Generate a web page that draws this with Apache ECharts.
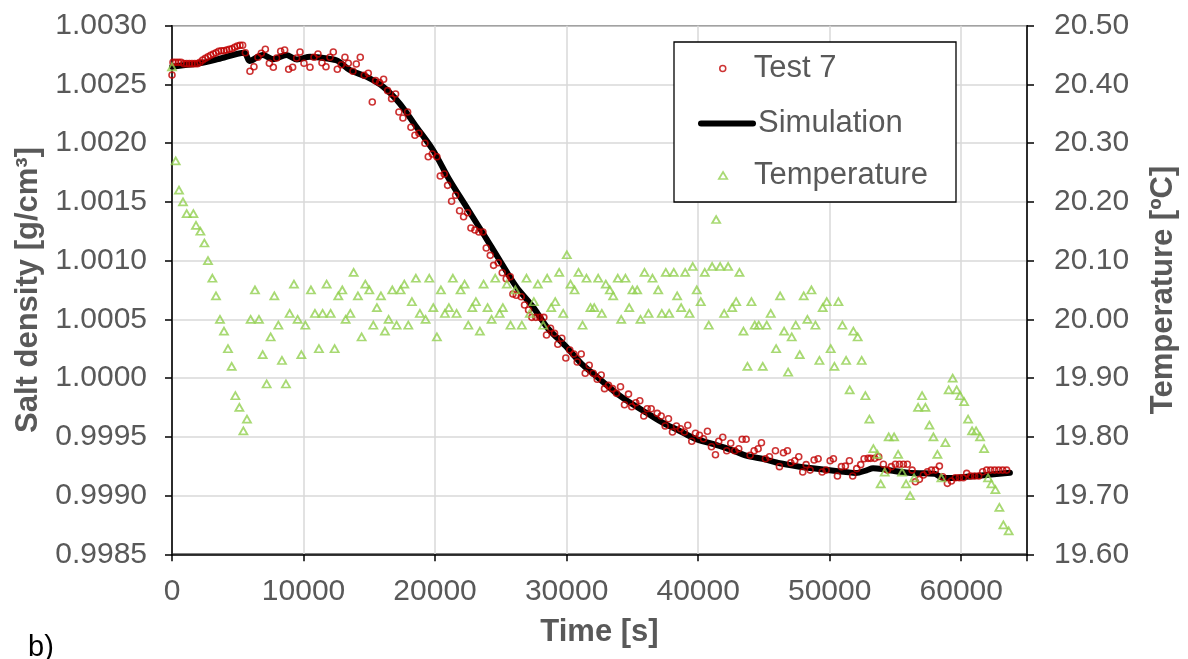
<!DOCTYPE html>
<html>
<head>
<meta charset="utf-8">
<script src="https://cdn.jsdelivr.net/npm/echarts@6/dist/echarts.min.js"></script>
<style>
html,body{margin:0;padding:0;background:#fff;}
#c{width:1188px;height:659px;}
</style>
</head>
<body>
<div id="c"></div>
<script>
// ---- data ----
var simTime = [0,1000,2100,3500,5500,5900,6900,7700,8700,9500,10500,11800,12600,13500,14770,16040,17300,18570,19840,21100,22370,23640,24900,26170,27430,28600,29900,31100,32370,33600,34900,36100,37400,38600,39700,41100,42500,43650,45000,46200,47500,48700,50000,51250,52000,52800,53300,54000,54800,56000,57300,58000,58600,59500,60400,61900,63700];
var simDensity = [1.002650,1.002665,1.002680,1.002715,1.002770,1.002700,1.002751,1.002715,1.002751,1.002712,1.002735,1.002720,1.002700,1.002623,1.002566,1.002481,1.002339,1.002140,1.001942,1.001686,1.001459,1.001233,1.001005,1.000778,1.000608,1.000420,1.000275,1.000126,1.000005,0.999888,0.999785,0.999703,0.999615,0.999550,0.999487,0.999440,0.999390,0.999340,0.999310,0.999275,0.999250,0.999232,0.999215,0.999200,0.999192,0.999215,0.999232,0.999225,0.999211,0.999195,0.999189,0.999185,0.999150,0.999150,0.999160,0.999175,0.999195];

var testTime = [0,76,279,482,684,912,1115,1317,1520,1723,1925,2128,2330,2533,2736,2938,3141,3344,3546,3749,3952,4154,4357,4560,4762,4965,5168,5370,5578,5928,6231,6535,6789,7096,7400,7704,7957,8261,8565,8869,9173,9477,9730,10034,10490,10794,11098,11402,11706,12010,12263,12567,12871,13148,13401,13756,14010,14314,14618,14922,15226,15479,15783,16087,16391,16695,16999,17252,17556,17911,18164,18468,18772,19228,19482,19786,20138,20395,20699,20952,21256,21560,21864,22168,22472,22725,23029,23333,23637,23891,24195,24448,24803,25107,25411,25715,25917,26171,26550,26802,27106,27358,27662,27966,28270,28473,28777,29081,29332,29636,29940,30244,30548,30806,31110,31414,31718,32022,32326,32630,32881,33185,33489,33793,34097,34401,34705,34955,35259,35563,35867,36125,36429,36885,37189,37493,37743,38047,38351,38655,38959,39211,39515,39795,40099,40403,40707,41012,41316,41566,41870,42174,42478,42782,43086,43344,43648,43952,44256,44560,44812,45116,45420,45876,46180,46484,46788,47040,47344,47648,47952,48209,48513,48817,49121,49425,49729,50033,50284,50588,50892,51196,51500,51749,52053,52357,52614,52918,53118,53422,53726,54082,54386,54690,54994,55298,55602,55906,56265,56516,56820,57124,57428,57732,58036,58340,58590,58947,59251,59555,59859,60163,60414,60718,61022,61326,61630,61934,62238,62542,62846,63150,63454];
var testDensity = [1.002580,1.002688,1.002688,1.002688,1.002688,1.002677,1.002677,1.002677,1.002677,1.002677,1.002677,1.002688,1.002708,1.002722,1.002736,1.002748,1.002759,1.002770,1.002782,1.002787,1.002787,1.002793,1.002799,1.002804,1.002816,1.002827,1.002833,1.002833,1.002770,1.002612,1.002651,1.002731,1.002765,1.002799,1.002680,1.002646,1.002725,1.002782,1.002793,1.002629,1.002646,1.002725,1.002776,1.002680,1.002646,1.002731,1.002759,1.002685,1.002651,1.002731,1.002776,1.002629,1.002668,1.002731,1.002680,1.002612,1.002674,1.002731,1.002578,1.002595,1.002350,1.002532,1.002515,1.002544,1.002447,1.002379,1.002419,1.002265,1.002214,1.002265,1.002135,1.002067,1.002084,1.001999,1.001885,1.001908,1.001885,1.001720,1.001737,1.001641,1.001505,1.001556,1.001425,1.001374,1.001408,1.001278,1.001261,1.001244,1.001244,1.001107,1.001045,1.000960,1.000982,1.000897,1.000846,1.000863,1.000716,1.000705,1.000693,1.000622,1.000580,1.000517,1.000517,1.000517,1.000517,1.000367,1.000424,1.000381,1.000288,1.000339,1.000171,1.000239,1.000205,1.000137,1.000205,1.000041,1.000109,1.000041,0.999990,1.000026,0.999910,0.999938,0.999910,0.999870,0.999927,0.999773,0.999864,0.999756,0.999790,0.999807,0.999677,0.999739,0.999739,0.999700,0.999677,0.999592,0.999654,0.999541,0.999592,0.999569,0.999541,0.999598,0.999462,0.999530,0.999513,0.999484,0.999547,0.999416,0.999348,0.999462,0.999496,0.999382,0.999445,0.999382,0.999399,0.999479,0.999479,0.999343,0.999382,0.999399,0.999450,0.999314,0.999331,0.999382,0.999246,0.999365,0.999382,0.999280,0.999297,0.999331,0.999200,0.999263,0.999217,0.999303,0.999314,0.999200,0.999217,0.999297,0.999314,0.999166,0.999246,0.999251,0.999297,0.999166,0.999229,0.999263,0.999314,0.999317,0.999317,0.999317,0.999331,0.999266,0.999217,0.999246,0.999266,0.999266,0.999266,0.999266,0.999217,0.999118,0.999138,0.999175,0.999203,0.999217,0.999217,0.999251,0.999160,0.999104,0.999124,0.999152,0.999152,0.999152,0.999189,0.999166,0.999166,0.999166,0.999203,0.999217,0.999217,0.999217,0.999217,0.999217,0.999217];

var tempTime = [0,281,532,836,1117,1626,1824,2158,2462,2736,3070,3344,3648,3952,4256,4537,4818,5122,5426,5699,5980,6307,6611,6893,7197,7500,7781,8085,8359,8663,8944,9271,9552,9833,10137,10562,10866,11170,11450,11755,12059,12363,12642,12946,13200,13556,13808,14134,14415,14696,15000,15304,15579,15883,16187,16467,16748,17075,17379,17660,17964,18238,18542,18846,19279,19560,19864,20138,20442,20746,21050,21354,21635,21939,22243,22524,22828,23102,23406,23687,23991,24295,24576,24903,25153,25457,25738,26100,26597,26954,27206,27510,27814,28221,28525,28829,29133,29437,29741,30017,30298,30602,30906,31210,31514,31818,32098,32402,32676,32980,33284,33540,33892,34149,34476,34757,35008,35364,35617,35921,36225,36529,36962,37236,37540,37797,38147,38404,38708,39012,39340,39590,39894,40198,40502,40806,41065,41369,41673,41977,42281,42585,42889,43140,43444,43748,44052,44302,44606,44910,45214,45518,45928,46232,46536,46840,47114,47418,47722,48026,48307,48611,48915,49219,49469,49773,50077,50358,50662,50966,51247,51521,51802,52128,52432,52713,53017,53321,53625,53878,54182,54486,54896,55200,55504,55808,56112,56416,56720,57024,57277,57581,57885,58189,58493,58797,59046,59350,59654,59913,60217,60521,60825,61129,61433,61737,62041,62292,62596,62900,63204,63607];
var tempValue = [20.43,20.27,20.22,20.20,20.18,20.18,20.16,20.15,20.13,20.10,20.07,20.04,20.00,19.98,19.95,19.92,19.87,19.85,19.81,19.83,20.00,20.05,20.00,19.94,19.89,19.97,20.04,19.99,19.93,19.89,20.01,20.06,20.00,19.94,19.99,20.05,20.01,19.95,20.01,20.06,20.01,19.95,20.04,20.05,20.00,20.01,20.08,20.04,19.97,20.06,20.05,19.99,20.02,20.04,19.98,20.00,20.05,19.99,20.05,20.06,19.99,20.03,20.07,20.01,20.00,20.07,20.02,19.97,20.05,20.01,20.02,20.07,20.01,20.05,20.06,19.99,20.02,20.03,19.98,20.06,20.02,20.00,20.07,20.01,20.02,20.06,19.99,20.05,19.99,20.07,20.01,20.03,20.06,19.99,20.07,20.02,20.03,20.08,20.01,20.11,20.06,20.05,20.08,19.99,20.07,20.02,20.02,20.07,20.01,20.06,20.05,20.04,20.07,20.00,20.07,20.02,20.05,20.05,20.00,20.08,20.01,20.07,20.05,20.01,20.08,20.01,20.08,20.04,20.02,20.08,20.01,20.09,20.05,20.03,20.08,19.99,20.09,20.17,20.09,20.01,20.09,20.02,20.03,20.08,19.98,19.92,20.03,19.99,19.99,19.92,19.99,20.01,19.95,20.04,19.98,19.91,19.97,19.99,19.94,20.04,20.00,20.05,19.99,19.93,20.02,20.03,19.95,19.92,20.03,19.99,19.93,19.88,19.98,19.97,19.93,19.87,19.83,19.78,19.77,19.72,19.74,19.80,19.80,19.77,19.74,19.72,19.70,19.73,19.85,19.87,19.85,19.82,19.80,19.77,19.73,19.79,19.88,19.90,19.88,19.87,19.86,19.83,19.81,19.81,19.80,19.78,19.73,19.72,19.71,19.68,19.65,19.64];

var xMin = 0, xMax = 65000, xStep = 10000;
var yMin = 0.9985, yMax = 1.0030, yStep = 0.0005;
var y2Min = 19.6, y2Max = 20.5, y2Step = 0.1;

function zip(a, b) { var r = []; for (var i = 0; i < a.length; i++) r.push([a[i], b[i]]); return r; }

var FONT = "'Liberation Sans', Arial, sans-serif";
var GRAY = '#595959';
var CIRCLE_ICON = 'path://M5,0 A5,5 0 1,1 5,10 A5,5 0 1,1 5,0 Z';
var TRI_ICON = 'path://M6,0 L12,10 L0,10 Z';

var chart = echarts.init(document.getElementById('c'), null, {renderer: 'canvas'});
var legendBase = {
  orient: 'vertical', left: 698, padding: 0, itemWidth: 52, selectedMode: false, z: 20,
  symbolKeepAspect: true,
  textStyle: {fontFamily: FONT, fontSize: 31, color: GRAY}
};
chart.setOption({
  animation: false,
  backgroundColor: '#fff',
  grid: {left: 172, top: 25.7, width: 855, height: 528.6, show: true, borderColor: '#000', borderWidth: 1.5, backgroundColor: 'transparent'},
  xAxis: {
    type: 'value', min: xMin, max: xMax, interval: xStep,
    name: 'Time [s]', nameLocation: 'middle', nameGap: 63,
    nameTextStyle: {fontFamily: FONT, fontSize: 31, fontWeight: 'bold', color: GRAY},
    axisLine: {show: true, lineStyle: {color: '#000', width: 1.5}},
    axisTick: {show: true, inside: false, length: 7, lineStyle: {color: '#000', width: 1.5}},
    axisLabel: {fontFamily: FONT, fontSize: 30, color: GRAY, margin: 22,
      formatter: function (v) { return v >= xMax ? '' : String(v); }},
    splitLine: {show: true, lineStyle: {color: '#d9d9d9', width: 1.5}}
  },
  yAxis: [{
    type: 'value', min: yMin, max: yMax, interval: yStep, position: 'left',
    name: 'Salt density [g/cm³]', nameLocation: 'middle', nameGap: 127, nameRotate: 90,
    nameTextStyle: {fontFamily: FONT, fontSize: 31, fontWeight: 'bold', color: GRAY},
    axisLine: {show: true, lineStyle: {color: '#000', width: 1.5}},
    axisTick: {show: true, inside: false, length: 7, lineStyle: {color: '#000', width: 1.5}},
    axisLabel: {fontFamily: FONT, fontSize: 30, color: GRAY, margin: 25,
      formatter: function (v) { return v.toFixed(4); }},
    splitLine: {show: true, lineStyle: {color: '#d9d9d9', width: 1.5}}
  }, {
    type: 'value', min: y2Min, max: y2Max, interval: y2Step, position: 'right',
    name: 'Temperature [ºC]', nameLocation: 'middle', nameGap: 121, nameRotate: 90,
    nameTextStyle: {fontFamily: FONT, fontSize: 31, fontWeight: 'bold', color: GRAY},
    axisLine: {show: true, lineStyle: {color: '#000', width: 1.5}},
    axisTick: {show: true, inside: false, length: 7, lineStyle: {color: '#000', width: 1.5}},
    axisLabel: {fontFamily: FONT, fontSize: 30, color: GRAY, margin: 27,
      formatter: function (v) { return v.toFixed(2); }},
    splitLine: {show: false}
  }],
  legend: [
    Object.assign({}, legendBase, {left: 719, top: 53, itemHeight: 6, data: [{name: 'Test 7', icon: CIRCLE_ICON,
      itemStyle: {color: 'transparent', borderColor: '#c00000', borderWidth: 1.5}}]}),
    Object.assign({}, legendBase, {top: 108, itemHeight: 6, data: [{name: 'Simulation'}],
      lineStyle: {width: 6, color: '#000', cap: 'round'}, itemStyle: {color: 'transparent', borderWidth: 0}}),
    Object.assign({}, legendBase, {left: 718, top: 160, itemHeight: 7, data: [{name: 'Temperature', icon: TRI_ICON,
      itemStyle: {color: 'transparent', borderColor: '#92d050', borderWidth: 1.7}}]})
  ],
  graphic: [
    {type: 'rect', z: 10, shape: {x: 674, y: 42, width: 282, height: 160},
      style: {fill: '#fff', stroke: '#000', lineWidth: 1.3}},
    {type: 'text', z: 10, left: 28, top: 633, style: {text: 'b)', fontFamily: FONT, fontSize: 29, fill: '#000'}}
  ],
  series: [{
    name: 'Simulation', type: 'line', yAxisIndex: 0, z: 2,
    data: zip(simTime, simDensity), symbol: 'none', smooth: 0.3,
    lineStyle: {color: '#000', width: 6, cap: 'round', join: 'round'},
    itemStyle: {color: '#000'}
  }, {
    name: 'Test 7', type: 'scatter', yAxisIndex: 0, z: 3,
    data: zip(testTime, testDensity), symbol: 'circle', symbolSize: 6,
    itemStyle: {color: 'transparent', borderColor: '#c00000', borderWidth: 1.6}
  }, {
    name: 'Temperature', type: 'scatter', yAxisIndex: 1, z: 4,
    data: zip(tempTime, tempValue), symbol: 'triangle', symbolSize: [8, 7],
    itemStyle: {color: 'transparent', borderColor: '#92d050', borderWidth: 1.8}
  }]
});
</script>
</body>
</html>
